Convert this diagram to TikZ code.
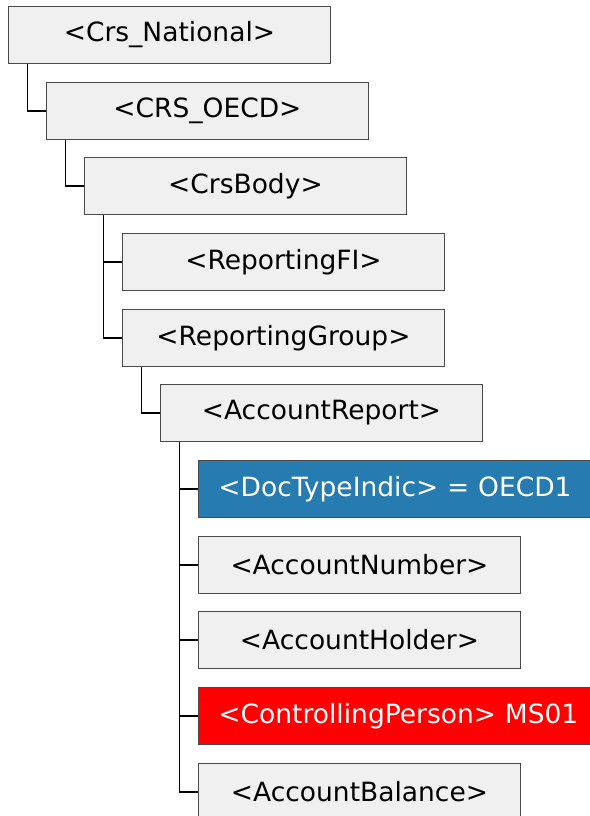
\documentclass[tikz,border=0pt]{standalone}
\usepackage{fontspec}
\setmainfont{DejaVu Sans}
\definecolor{boxfill}{HTML}{F0F0F0}
\definecolor{boxline}{HTML}{4A4A4A}
\definecolor{docblue}{HTML}{267BB0}
\definecolor{cpred}{HTML}{FF0000}
\tikzset{
  elem/.style={draw=boxline, line width=0.9pt, fill=boxfill, anchor=north west,
    minimum width=322pt, minimum height=57pt, inner sep=0pt,
    font=\fontsize{26.5}{31}\selectfont, text=black},
  hl/.style={draw=boxline, line width=0.9pt, anchor=north west,
    minimum height=57pt, text width=400pt, inner xsep=20pt, inner ysep=0pt, align=left,
    font=\fontsize{26.5}{31}\selectfont, text=white},
  conn/.style={draw=black, line width=1.8pt},
}
\begin{document}
\begin{tikzpicture}[x=1pt,y=-1pt]
\useasboundingbox (0,0) rectangle (589,816);
\node[elem] (n1) at (8,6) {<Crs\_National>};
\node[elem] (n2) at (46,82) {<CRS\_OECD>};
\node[elem] (n3) at (84,157) {<CrsBody>};
\node[elem] (n4) at (122,233) {<ReportingFI>};
\node[elem] (n5) at (122,309) {<ReportingGroup>};
\node[elem] (n6) at (160,384) {<AccountReport>};
\node[hl, fill=docblue] (n7) at (198,460) {<DocTypeIndic> = OECD1};
\node[elem] (n8) at (198,536) {<AccountNumber>};
\node[elem] (n9) at (198,611) {<AccountHolder>};
\node[hl, fill=cpred] (n10) at (198,687) {<ControllingPerson> MS01};
\node[elem] (n11) at (198,763) {<AccountBalance>};
\draw[conn] ([xshift=19.5pt]n1.south west) |- (n2.west);
\draw[conn] ([xshift=19.5pt]n2.south west) |- (n3.west);
\draw[conn] ([xshift=19.5pt]n3.south west) |- (n4.west);
\draw[conn] ([xshift=19.5pt]n3.south west) |- (n5.west);
\draw[conn] ([xshift=19.5pt]n5.south west) |- (n6.west);
\draw[conn] ([xshift=19.5pt]n6.south west) |- (n7.west);
\draw[conn] ([xshift=19.5pt]n6.south west) |- (n8.west);
\draw[conn] ([xshift=19.5pt]n6.south west) |- (n9.west);
\draw[conn] ([xshift=19.5pt]n6.south west) |- (n10.west);
\draw[conn] ([xshift=19.5pt]n6.south west) |- (n11.west);
\end{tikzpicture}
\end{document}
